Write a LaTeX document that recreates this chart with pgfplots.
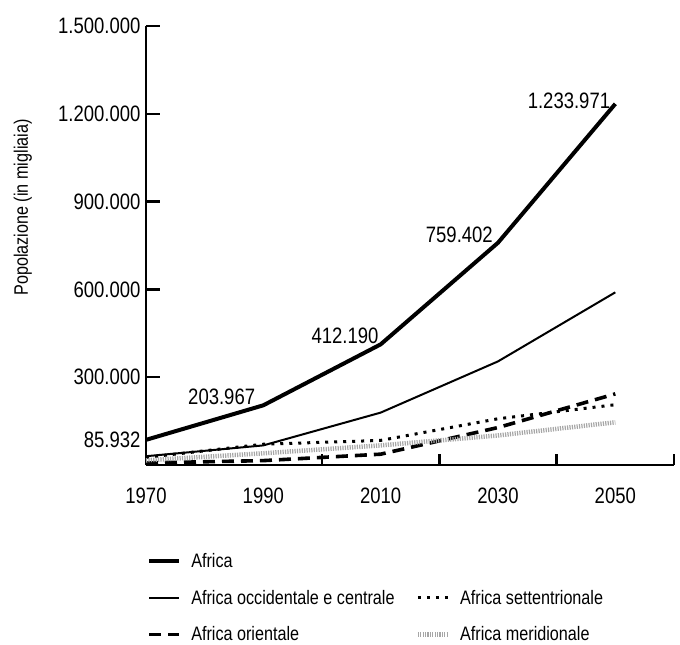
\documentclass[border=0pt]{standalone}
\usepackage{fontspec}
\setmainfont{Liberation Sans}[FakeStretch=0.83]
\usepackage{pgfplots}
\usepackage{pgfplotstable}
\pgfplotsset{compat=1.18}

% popolazione in migliaia
\pgfplotstableread{
anno africa  occ    sett   ori    mer
1970 85932   30000  26000  7000   16000
1990 203967  67000  71000  15000  40000
2010 412190  179000 84000  37000  67000
2030 759402  354000 158000 128000 101000
2050 1233971 590000 206000 243000 146000
}\dati

\newcommand{\tickfont}{\fontsize{22.3}{26}\selectfont}
\newcommand{\legfont}{\fontsize{19.5}{23}\selectfont}

\begin{document}
\begin{tikzpicture}
\begin{axis}[
    name=ax,
    scale only axis,
    width=528pt, height=439pt,
    xmin=1970, xmax=2060,
    ymin=0, ymax=1500000,
    scaled y ticks=false,
    axis lines=left,
    axis line style={line width=2.6pt, -},
    tick align=inside,
    xtick={1970,1990,2010,2030,2050},
    xticklabels={1970,1990,2010,2030,2050},
    major x tick style={draw=none},
    minor xtick={2000,2020,2040,2060},
    minor x tick style={line width=2.4pt, black},
    minor tick length=11pt,
    ytick={300000,600000,900000,1200000,1500000},
    yticklabels={300.000,600.000,900.000,1.200.000,1.500.000},
    major y tick style={line width=2.4pt, black},
    major tick length=14pt,
    extra y ticks={85932},
    extra y tick labels={85.932},
    extra y tick style={major y tick style={draw=none}},
    ticklabel style={font=\tickfont},
    xticklabel style={yshift=-19pt},
    yticklabel style={xshift=-2pt},
    ylabel={Popolazione (in migliaia)},
    ylabel style={font=\legfont, at={(axis description cs:-0.2335,0.5866)}, anchor=center},
    legend columns=2,
    legend image code/.code={\draw[#1] (0pt,0pt) -- (30pt,0pt);},
    legend style={draw=none, fill=none, inner sep=0pt, font=\legfont,
        at={(axis description cs:0.002,-0.196)}, anchor=north west,
        cells={anchor=west}, row sep=17pt,
        /tikz/column 1/.style={column sep=8pt},
        /tikz/column 2/.style={column sep=19pt},
        /tikz/column 3/.style={column sep=8pt}},
    clip=false,
]
\addplot[line width=4pt] table[x=anno, y=africa] {\dati};
\addlegendentry{Africa}
\addlegendimage{empty legend}
\addlegendentry{}
\addplot[line width=2pt] table[x=anno, y=occ] {\dati};
\addlegendentry{Africa occidentale e centrale}
\addplot[line width=3pt, dash pattern=on 3pt off 6pt] table[x=anno, y=sett] {\dati};
\addlegendentry{Africa settentrionale}
\addplot[line width=3.6pt, dash pattern=on 12pt off 7pt] table[x=anno, y=ori] {\dati};
\addlegendentry{Africa orientale}
\addplot[line width=4.5pt, gray!70, dash pattern=on 1.2pt off 1.2pt] table[x=anno, y=mer] {\dati};
\addlegendentry{Africa meridionale}

\node[font=\tickfont, inner sep=0pt, anchor=south east, xshift=-8pt] at (axis cs:1990,203967) {203.967};
\node[font=\tickfont, inner sep=0pt, anchor=south east, xshift=-2pt] at (axis cs:2010,412190) {412.190};
\node[font=\tickfont, inner sep=0pt, anchor=south east, xshift=-5pt] at (axis cs:2030,759402) {759.402};
\node[font=\tickfont, inner sep=0pt, anchor=south east, xshift=-5pt, yshift=-5pt] at (axis cs:2050,1233971) {1.233.971};
\end{axis}
\path (ax.south west) ++(-146pt,-179pt) rectangle ++(680pt,644pt);
\end{tikzpicture}
\end{document}
